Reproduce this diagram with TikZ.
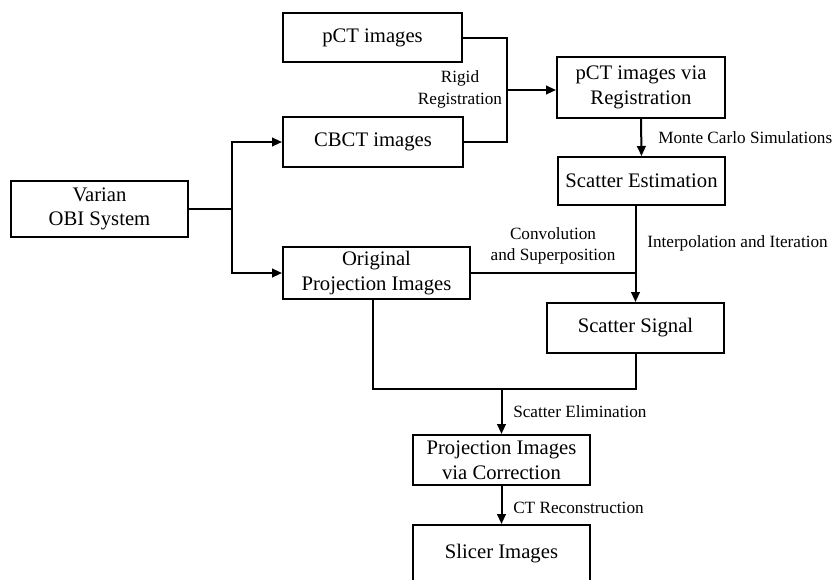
\documentclass[tikz,border=0pt]{standalone}
\usepackage{fontspec}
\setmainfont{Liberation Serif}
\usetikzlibrary{arrows.meta}
\begin{document}
\begin{tikzpicture}[x=0.75pt,y=-0.75pt,
 box/.style={draw,line width=1.5pt,inner sep=0pt,align=center,font=\fontsize{15.5}{18.5}\selectfont},
 lab/.style={font=\fontsize{12.9}{16}\selectfont,inner sep=0pt,align=center},
 conn/.style={line width=1.5pt},
 arr/.style={conn,-{Triangle[length=7.5pt,width=6.5pt]}}]
\useasboundingbox (0,0) rectangle (839,579);
\clip (0,0) rectangle (839,579);
\node[box,minimum width=134.25pt,minimum height=36.75pt] (pct) at (372.5,37.5) {pCT images};
\node[box,minimum width=135pt,minimum height=37.5pt] (cbct) at (373,142) {CBCT images};
\node[box,minimum width=126pt,minimum height=45.75pt] (pctreg) at (641,87.5) {pCT images via\\Registration};
\node[box,minimum width=125.25pt,minimum height=36pt] (se) at (641.5,181) {Scatter Estimation};
\node[box,minimum width=132.75pt,minimum height=42pt] (varian) at (99.5,209) {Varian\\OBI System};
\node[box,minimum width=140.25pt,minimum height=39pt] (orig) at (376.5,273) {Original\\Projection Images};
\node[box,minimum width=132.75pt,minimum height=37.5pt] (ss) at (635.5,328) {Scatter Signal};
\node[box,minimum width=132.75pt,minimum height=37.5pt] (pvc) at (501.5,460) {Projection Images\\via Correction};
\node[box,minimum width=132.75pt,minimum height=42.75pt] (slicer) at (501.5,553.5) {Slicer Images};

% rigid registration
\coordinate (j1) at (507,90);
\draw[conn] (pct.east) -| (j1);
\draw[conn] (cbct.east) -| (j1);
\draw[arr] (j1) -- (pctreg.west |- j1);
\node[lab] (lrr) at (460,89.5) {Rigid\\Registration};

% varian split
\coordinate (j2) at (232,209);
\draw[conn] (varian.east) -- (j2);
\draw[arr] (j2) |- (cbct.west);
\draw[arr] (j2) |- (orig.west);

% monte carlo
\draw[arr] (pctreg.south) -- (se.north);
\node[lab,anchor=west] (lmc) at (658,138) {Monte Carlo Simulations};

% interpolation
\draw[arr] (se.south -| ss.north) -- (ss.north);
\node[lab,anchor=west] (lii) at (647,243) {Interpolation and Iteration};
\coordinate (j3) at (ss.north |- orig.east);
\draw[conn] (orig.east) -- (j3);
\node[lab] (lcs) at (553,246) {Convolution\\and Superposition};

% elimination
\coordinate (ob) at (373,389);
\draw[conn] (orig.south -| ob) -- (ob) -- (ss.south |- ob) -- (ss.south);
\draw[arr] (pvc.north |- ob) -- (pvc.north);
\node[lab,anchor=west] (lse) at (513,412) {Scatter Elimination};

% reconstruction
\draw[arr] (pvc.south) -- (slicer.north);
\node[lab,anchor=west] (lct) at (513,508) {CT Reconstruction};
\end{tikzpicture}
\end{document}
